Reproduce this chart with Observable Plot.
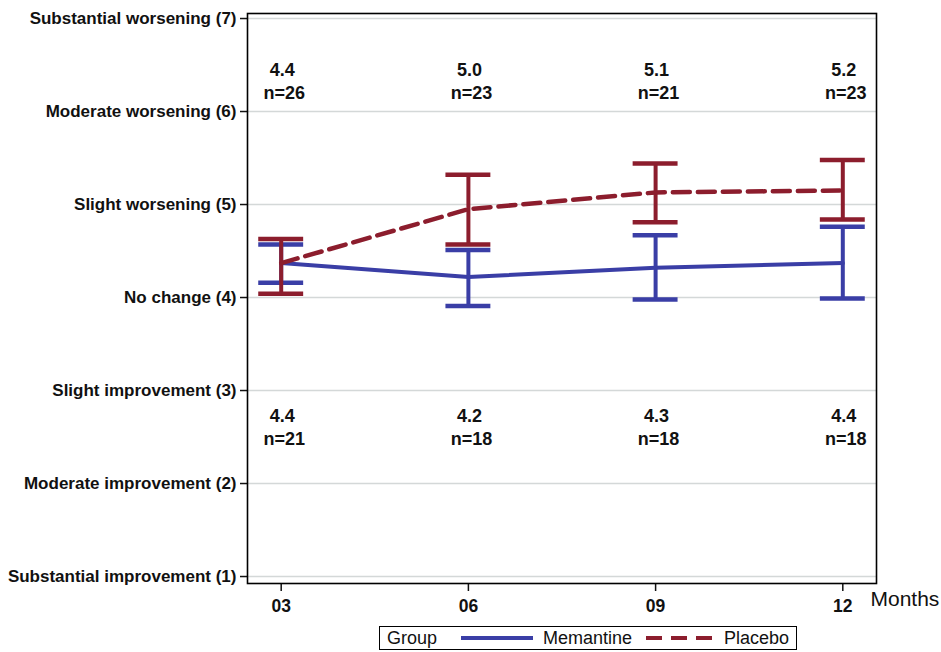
<!DOCTYPE html>
<html>
<head>
<meta charset="utf-8">
<script src="https://cdn.jsdelivr.net/npm/d3@7"></script>
<script src="https://cdn.jsdelivr.net/npm/@observablehq/plot@0.6"></script>
<style>
  body { margin: 0; background: #fff; font-family: "Liberation Sans", Arial, sans-serif; }
  #legend { position: absolute; left: 379px; top: 626px; width: 416px; height: 22px; border: 1px solid #000;
    display: flex; align-items: center; font-size: 18px; color: #111; box-sizing: content-box; }
  #legend span { white-space: nowrap; }
</style>
</head>
<body>
<div id="chart"></div>
<div id="legend"></div>
<script>
const months = [3, 6, 9, 12];
const monthLabels = ["03", "06", "09", "12"];
const scaleValues = [1, 2, 3, 4, 5, 6, 7];
const scaleLabels = ["Substantial improvement (1)", "Moderate improvement (2)", "Slight improvement (3)",
  "No change (4)", "Slight worsening (5)", "Moderate worsening (6)", "Substantial worsening (7)"];
const groups = ["Memantine", "Placebo"];

const memantineMean = [4.37, 4.22, 4.32, 4.37];
const memantineLow  = [4.16, 3.91, 3.98, 3.99];
const memantineHigh = [4.57, 4.51, 4.67, 4.76];
const memantineLabel = ["4.4", "4.2", "4.3", "4.4"];
const memantineN = [21, 18, 18, 18];

const placeboMean = [4.37, 4.95, 5.13, 5.15];
const placeboLow  = [4.04, 4.57, 4.81, 4.84];
const placeboHigh = [4.63, 5.32, 5.44, 5.48];
const placeboLabel = ["4.4", "5.0", "5.1", "5.2"];
const placeboN = [26, 23, 21, 23];

const colors = {Memantine: "#3a3ea6", Placebo: "#8c1d2d"};

const mem = months.map((m, i) => ({month: m, mean: memantineMean[i], low: memantineLow[i], high: memantineHigh[i], label: memantineLabel[i], n: memantineN[i]}));
const pla = months.map((m, i) => ({month: m, mean: placeboMean[i], low: placeboLow[i], high: placeboHigh[i], label: placeboLabel[i], n: placeboN[i]}));

const capHalf = 0.36;
const font = "Liberation Sans, Arial, sans-serif";

function errorMarks(data, color) {
  return [
    Plot.ruleX(data, {x: "month", y1: "low", y2: "high", stroke: color, strokeWidth: 4}),
    Plot.ruleY(data, {y: "low", x1: d => d.month - capHalf, x2: d => d.month + capHalf, stroke: color, strokeWidth: 4.5}),
    Plot.ruleY(data, {y: "high", x1: d => d.month - capHalf, x2: d => d.month + capHalf, stroke: color, strokeWidth: 4.5})
  ];
}

const chart = Plot.plot({
  width: 941,
  height: 620,
  marginLeft: 247,
  marginRight: 65,
  marginTop: 13,
  marginBottom: 37,
  style: {fontFamily: font, background: "#fff", color: "#111"},
  x: {domain: [2.46, 12.54]},
  y: {domain: [0.925, 7.054]},
  marks: [
    Plot.gridY(scaleValues, {stroke: "#d4d8d8", strokeOpacity: 1, strokeWidth: 1.3}),
    Plot.axisY(scaleValues, {tickFormat: d => scaleLabels[scaleValues.indexOf(d)], tickSize: 7, tickPadding: 4,
      fontSize: 17, fontWeight: "bold", label: null, strokeWidth: 1.5}),
    Plot.axisX(months, {tickFormat: d => monthLabels[months.indexOf(d)], tickSize: 8, tickPadding: 8,
      fontSize: 17.5, fontWeight: "bold", label: null, strokeWidth: 1.5}),
    Plot.text(["Months"], {frameAnchor: "bottom-right", textAnchor: "start", dx: -6, dy: 22, fontSize: 21}),
    ...errorMarks(mem, colors.Memantine),
    Plot.line(mem, {x: "month", y: "mean", stroke: colors.Memantine, strokeWidth: 4}),
    ...errorMarks(pla, colors.Placebo),
    Plot.line(pla, {x: "month", y: "mean", stroke: colors.Placebo, strokeWidth: 4.5, strokeDasharray: "17,8"}),
    Plot.text(pla, {x: "month", y: 6.44, text: "label", fontSize: 18, fontWeight: "bold", dx: 1}),
    Plot.text(pla, {x: "month", y: 6.20, text: d => `n=${d.n}`, fontSize: 18, fontWeight: "bold", dx: 3}),
    Plot.text(mem, {x: "month", y: 2.72, text: "label", fontSize: 18, fontWeight: "bold", dx: 1}),
    Plot.text(mem, {x: "month", y: 2.48, text: d => `n=${d.n}`, fontSize: 18, fontWeight: "bold", dx: 3}),
    Plot.frame({stroke: "#000", strokeWidth: 1.6})
  ]
});
document.getElementById("chart").append(chart);

const legend = document.getElementById("legend");
const parts = [`<span style="margin-left:7px">Group</span>`];
parts.push(`<svg width="72" height="10" style="margin-left:24px"><line x1="0" x2="72" y1="5" y2="5" stroke="${colors.Memantine}" stroke-width="4"/></svg>`);
parts.push(`<span style="margin-left:10px">${groups[0]}</span>`);
parts.push(`<svg width="66" height="10" style="margin-left:14px"><line x1="0" x2="66" y1="5" y2="5" stroke="${colors.Placebo}" stroke-width="4" stroke-dasharray="16,9"/></svg>`);
parts.push(`<span style="margin-left:12px">${groups[1]}</span>`);
legend.innerHTML = parts.join("");
</script>
</body>
</html>
